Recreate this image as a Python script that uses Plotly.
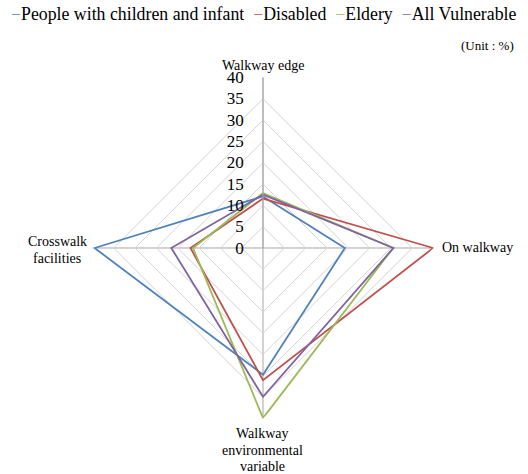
import plotly.graph_objects as go

# Spoke categories (clockwise from top)
categories = ["Walkway edge", "On walkway", "Walkway environmental variable", "Crosswalk facilities"]

# Share of responses per group (%)
children_infant = [12.1, 19.2, 29.7, 39.5]
disabled = [11.6, 39.9, 31.0, 17.0]
elderly = [12.9, 30.5, 39.9, 16.4]
all_vulnerable = [12.5, 30.6, 34.9, 21.5]

series_names = ["People with children and infant", "Disabled", "Eldery", "All Vulnerable"]
series_values = [children_infant, disabled, elderly, all_vulnerable]
colors = ["#4F81BD", "#C0504D", "#9BBB59", "#8064A2"]

radial_ticks = list(range(0, 45, 5))

FONT = "Liberation Serif, 'Times New Roman', DejaVu Serif, serif"
W, H = 528, 474

# Polar area in paper fractions
DX = [0.175, 0.8212]
DY = [0.1169, 0.8367]
cx = (DX[0] + DX[1]) / 2
cy = (DY[0] + DY[1]) / 2

fig = go.Figure()
for name, vals, col in zip(series_names, series_values, colors):
    fig.add_trace(go.Scatterpolar(
        r=vals + [vals[0]],
        theta=categories + [categories[0]],
        mode="lines",
        name=name,
        line=dict(color=col, width=1.8),
        showlegend=False,
    ))

# Compact legend row drawn as rich text
legend_text = "&nbsp;&nbsp;".join(
    f"<span style='color:{c}'>−</span>{n}" for n, c in zip(series_names, colors)
)

annotations = [
    dict(
        text=legend_text,
        x=0.5, y=1 - 14 / H, xref="paper", yref="paper",
        yanchor="middle", showarrow=False,
        font=dict(family=FONT, size=17.8, color="#000000"),
    ),
    dict(
        text="(Unit : %)",
        x=1 - 12 / W, y=1 - 45 / H, xref="paper", yref="paper",
        xanchor="right", yanchor="middle",
        showarrow=False,
        font=dict(family=FONT, size=13, color="#000000"),
    ),
]


def label(text, x, y, xanchor="center", yanchor="middle"):
    annotations.append(dict(
        text=text, x=x, y=y, xref="paper", yref="paper", showarrow=False,
        xanchor=xanchor, yanchor=yanchor,
        font=dict(family=FONT, size=14, color="#000000"),
    ))


# Category labels around the web, one line each
label("Walkway edge", cx, 1 - 66 / H)
label("On walkway", DX[1] + 6 / W, cy, xanchor="left")
label("Walkway", cx, 1 - 433 / H)
label("environmental", cx, 1 - 450 / H)
label("variable", cx, 1 - 466 / H)
label("Crosswalk", 57 / W, 1 - 241 / H)
label("facilities", 57 / W, 1 - 258 / H)

fig.update_layout(
    width=W,
    height=H,
    margin=dict(l=0, r=0, t=0, b=0),
    paper_bgcolor="white",
    plot_bgcolor="white",
    font=dict(family=FONT, color="#000000", size=14),
    polar=dict(
        domain=dict(x=DX, y=DY),
        bgcolor="white",
        gridshape="linear",
        radialaxis=dict(
            range=[0, 40],
            tickvals=radial_ticks,
            # trailing spaces keep the numbers clear of the axis line
            ticktext=[f"{v}&nbsp;&nbsp;&nbsp;" for v in radial_ticks],
            angle=90,
            tickangle=90,
            side="counterclockwise",
            showline=True,
            linecolor="#A6A6A6",
            linewidth=1,
            gridcolor="#D4D4D4",
            gridwidth=1,
            ticks="",
            tickfont=dict(family=FONT, size=17, color="#000000"),
        ),
        angularaxis=dict(
            rotation=90,
            direction="clockwise",
            showline=False,
            gridcolor="#A6A6A6",
            gridwidth=1,
            ticks="",
            showticklabels=False,
        ),
    ),
    annotations=annotations,
)

fig.write_html("out.html")
